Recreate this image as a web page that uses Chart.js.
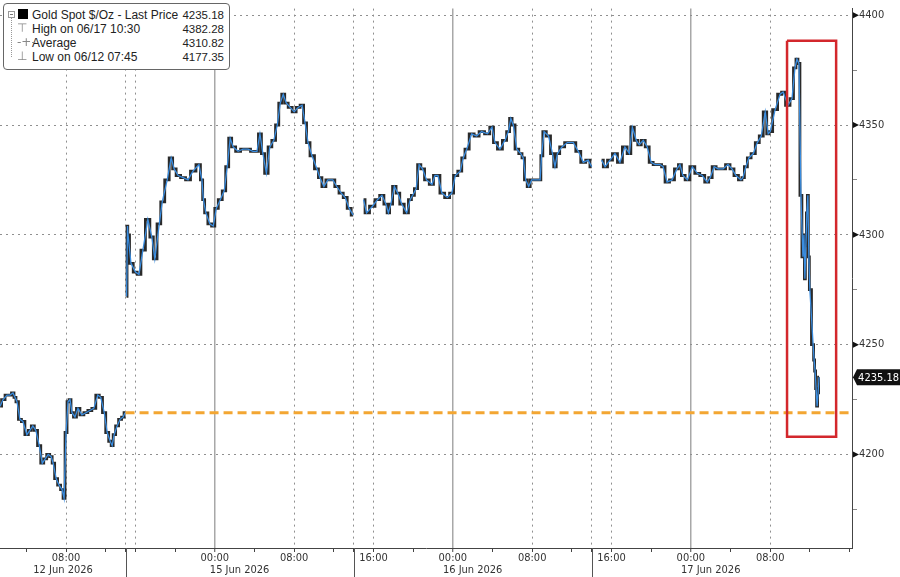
<!DOCTYPE html>
<html>
<head>
<meta charset="utf-8">
<script src="https://cdn.jsdelivr.net/npm/chart.js@4.4.1/dist/chart.umd.min.js"></script>
<style>
  body { margin: 0; background: #fff; }
  #wrap { position: relative; width: 900px; height: 577px; }
  #legend {
    position: absolute; left: 3px; top: 3px; width: 227px; height: 67px;
    border: 1px solid #666; border-radius: 4px; background: #fff;
    padding: 4px 5px 0 0; box-sizing: border-box; color: #222;
  }
  #legend .row { display: flex; align-items: center; height: 14px; white-space: nowrap; }
  #legend .ic { width: 28px; flex: none; position: relative; height: 14px; }
  #legend .lbl { flex: 1; font: 12px 'Liberation Sans', Arial, sans-serif; }
  #legend .val { flex: none; text-align: right; font: 11.5px 'Liberation Sans', Arial, sans-serif; }
  .minus { position: absolute; left: 4px; top: 3px; width: 5px; height: 5px; border: 1px solid #999; background: linear-gradient(#777,#777) center/3px 1px no-repeat; }
  .sq { position: absolute; left: 14px; top: 1px; width: 10px; height: 10px; background: #000; }
  .gl { position: absolute; left: 13px; top: -1px; color: #888; font: 12px 'DejaVu Sans', sans-serif; }
  .tree { position: absolute; left: 7px; top: 13px; width: 0; height: 40px; border-left: 1px dotted #999; }
</style>
</head>
<body>
<div id="wrap">
  <canvas id="chart" width="900" height="577"></canvas>
  <div id="legend">
    <div class="tree"></div>
    <div class="row"><span class="ic"><span class="minus"></span><span class="sq"></span></span><span class="lbl">Gold Spot $/Oz - Last Price</span><span class="val" id="vLast"></span></div>
    <div class="row"><span class="ic"><span class="gl">&#8868;</span></span><span class="lbl">High on 06/17 10:30</span><span class="val" id="vHigh"></span></div>
    <div class="row"><span class="ic"><span class="gl">-+-</span></span><span class="lbl">Average</span><span class="val" id="vAvg"></span></div>
    <div class="row"><span class="ic"><span class="gl">&#8869;</span></span><span class="lbl">Low on 06/12 07:45</span><span class="val" id="vLow"></span></div>
  </div>
</div>
<script>
// time axis: hours from 12 Jun 00:00, weekend cut out (12 Jun 14:00 runs straight into the 15 Jun session)
const times = [
  1.35, 1.65, 2.05, 2.35, 2.65, 2.85, 3.05, 3.35, 3.65, 4.05, 4.35, 4.65, 4.95, 5.3, 5.6, 5.9, 6.2, 6.5, 6.7, 7.0,
  7.3, 7.6, 7.8, 8.0, 8.2, 8.4, 8.6, 8.9, 9.2, 9.6, 10.0, 10.4, 10.8, 11.2, 11.5, 11.85, 12.15, 12.45, 12.65, 12.85,
  13.15, 13.45, 13.75, 13.95, 14.0,
  14.1, 14.2, 14.25, 14.55, 15.0, 15.35, 15.75, 16.25, 16.65, 16.95, 17.4, 17.7, 18.2, 18.6, 18.9, 19.3, 19.8, 20.3,
  20.8, 21.4, 21.7, 21.85, 22.1, 22.5, 22.85, 23.15, 23.55, 23.95, 24.25, 24.55, 24.85, 25.35, 25.85, 26.35, 26.85,
  27.25, 27.55, 27.85, 28.2, 28.55, 28.95, 29.3, 29.6, 29.9, 30.2, 30.6, 31.0, 31.4, 31.8, 32.1, 32.4, 32.8, 33.3,
  33.6, 34.0, 34.4, 34.9, 35.3, 35.75, 36.15, 36.55, 36.95, 37.5,
  38.0, 38.3, 38.9, 39.4, 39.85, 40.25, 40.5, 40.75, 41.1, 41.45, 41.85, 42.35, 42.7, 42.95, 43.3, 43.6, 43.95, 44.35,
  44.9, 45.2, 45.5, 45.9, 46.45, 46.9, 47.25, 47.75, 48.05, 48.4, 48.9, 49.4, 49.9, 50.5, 50.95, 51.25, 51.75, 52.25,
  52.6, 52.85, 53.1, 53.45, 53.85, 54.1, 54.35, 54.65, 54.95, 55.45, 55.8, 55.95, 56.2, 56.65, 57.05, 57.3, 57.55,
  58.0, 58.55, 59.15, 59.65, 60.15, 60.65, 61.0, 61.5,
  62.0, 62.35, 62.85, 63.35, 63.85, 64.35, 64.8, 65.1, 65.5, 65.8, 66.2, 66.6, 67.0, 67.4, 67.9, 68.2, 68.6, 69.1,
  69.6, 69.9, 70.2, 70.65, 71.15, 71.65, 72.15, 72.65, 72.95, 73.35, 73.75, 74.25, 74.75, 75.15, 75.55, 76.05, 76.25,
  76.55, 76.85, 77.3, 77.7, 78.1, 78.5, 78.8, 79.0, 79.5, 80.0, 80.3, 80.8, 81.2, 81.5, 81.7, 81.9, 82.1, 82.3, 82.4,
  82.5, 82.6, 82.7, 82.8, 82.9, 83.0, 83.33, 83.43, 83.53, 83.63, 83.73, 83.83, 83.93
];
const closes = [
  4222, 4225, 4227, 4227, 4228, 4226, 4224, 4216, 4215, 4209, 4211, 4213, 4211, 4204, 4196, 4198, 4200, 4199, 4196, 4189,
  4186, 4184, 4180, 4210, 4224, 4225, 4219, 4217, 4221, 4218, 4219, 4220, 4221, 4227, 4226, 4219, 4210, 4206, 4204, 4209,
  4213, 4216, 4217, 4219, null,
  4272, 4304, 4300, 4287, 4283, 4282, 4293, 4307, 4299, 4289, 4305, 4315, 4325, 4335, 4330, 4327, 4326, 4325,
  4329, 4332, 4325, 4316, 4310, 4305, 4304, 4312, 4316, 4320, 4331, 4344, 4340, 4338, 4339, 4339, 4338,
  4338, 4346, 4337, 4328, 4340, 4343, 4350, 4360, 4364, 4360, 4358, 4356, 4358, 4359, 4351, 4342, 4336, 4330,
  4326, 4322, 4325, 4325, 4322, 4319, 4317, 4312, 4309, null,
  4316, 4310, 4313, 4316, 4318, 4314, 4310, 4314, 4322, 4319, 4314, 4310, 4316, 4318, 4321, 4332, 4330, 4325,
  4323, 4327, 4327, 4319, 4317, 4319, 4327, 4329, 4335, 4339, 4346, 4345, 4347, 4346, 4349, 4342, 4339, 4343,
  4347, 4353, 4350, 4339, 4337, 4335, 4325, 4322, 4325, 4325, 4325, 4336, 4347, 4345, 4337, 4331, 4337,
  4340, 4342, 4342, 4338, 4333, 4334, 4331, null,
  4334, 4331, 4334, 4337, 4333, 4340, 4337, 4349, 4343, 4341, 4343, 4340, 4333, 4332, 4332, 4331, 4324, 4325,
  4330, 4332, 4327, 4325, 4331, 4328, 4327, 4324, 4326, 4331, 4330, 4330, 4332, 4330, 4327, 4325, 4326,
  4331, 4335, 4337, 4342, 4345, 4356, 4346, 4347, 4357, 4364, 4365, 4359, 4362, 4376, 4380, 4378, 4318, 4290, 4300,
  4280, 4295, 4310, 4318, 4290, 4275, 4250, 4243, 4238, 4230, 4222, 4228, 4235.18
];

const lastPrice = 4235.18;
const highPrice = 4382.28;
const avgPrice = 4310.82;
const lowPrice = 4177.35;
const refLevel = 4219;                 // orange dashed line
const boxTimes = [80.7, 85.65];        // red box
const boxValues = [4208, 4388.4];

const xMin = 1.34, xMax = 87.25;
const yMin = 4157.4, yMax = 4403;

const timeTicks = [4, 8, 12, 14, 15, 19, 23, 27, 31, 35, 37, 39, 43, 47, 51, 55, 59, 61, 63, 67, 71, 75, 79, 83, 87];
const timeTickLabels = ['', '08:00', '', '', '', '', '00:00', '', '08:00', '', '', '16:00', '', '00:00', '', '08:00', '', '', '16:00', '', '00:00', '', '08:00', '', ''];
const dottedTicks = [8, 14, 15, 31, 37, 39, 55, 61, 63, 79];
const midnightTicks = [23, 47, 71];
const sessionBreaks = [14, 37, 61];
const dateTicks = [7.7, 25.5, 49, 73];
const dateLabels = ['12 Jun 2026', '15 Jun 2026', '16 Jun 2026', '17 Jun 2026'];
const priceTicks = [4175, 4200, 4225, 4250, 4275, 4300, 4325, 4350, 4375, 4400];

const FONT = "'DejaVu Sans Condensed', 'Liberation Sans', sans-serif";
const isMajor = v => v % 50 === 0;

document.getElementById('vLast').textContent = lastPrice.toFixed(2);
document.getElementById('vHigh').textContent = highPrice.toFixed(2);
document.getElementById('vAvg').textContent = avgPrice.toFixed(2);
document.getElementById('vLow').textContent = lowPrice.toFixed(2);

const points = times.map((t, i) => ({ x: t, y: closes[i] }));

// separators under the time axis, price pointers, last price tag
const extras = {
  id: 'extras',
  afterDraw(chart) {
    const { ctx, chartArea } = chart;
    const x = chart.scales.x, y = chart.scales.y;
    ctx.save();
    ctx.strokeStyle = '#555';
    ctx.lineWidth = 1;
    sessionBreaks.forEach(t => {
      const px = Math.round(x.getPixelForValue(t)) + 0.5;
      ctx.beginPath();
      ctx.moveTo(px, chartArea.bottom);
      ctx.lineTo(px, chart.height);
      ctx.stroke();
    });

    ctx.fillStyle = '#111';
    priceTicks.filter(isMajor).forEach(v => {
      const py = y.getPixelForValue(v);
      ctx.beginPath();
      ctx.moveTo(chartArea.right + 1, py - 3);
      ctx.lineTo(chartArea.right + 7, py);
      ctx.lineTo(chartArea.right + 1, py + 3);
      ctx.closePath();
      ctx.fill();
    });

    const py = y.getPixelForValue(lastPrice);
    const left = chartArea.right + 1;
    ctx.fillStyle = '#111';
    ctx.beginPath();
    ctx.moveTo(left, py);
    ctx.lineTo(left + 4, py - 8);
    ctx.lineTo(chart.width, py - 8);
    ctx.lineTo(chart.width, py + 8);
    ctx.lineTo(left + 4, py + 8);
    ctx.closePath();
    ctx.fill();
    ctx.fillStyle = '#fff';
    ctx.font = '11px ' + FONT;
    ctx.textBaseline = 'middle';
    ctx.textAlign = 'right';
    ctx.fillText(lastPrice.toFixed(2), chart.width - 1, py + 0.5);
    ctx.restore();
  }
};

new Chart(document.getElementById('chart'), {
  type: 'line',
  data: {
    datasets: [
      {
        label: 'box',
        data: [
          { x: boxTimes[0], y: boxValues[1] }, { x: boxTimes[1], y: boxValues[1] },
          { x: boxTimes[1], y: boxValues[0] }, { x: boxTimes[0], y: boxValues[0] },
          { x: boxTimes[0], y: boxValues[1] }
        ],
        borderColor: '#d3272c', borderWidth: 2.5, pointRadius: 0, order: 0
      },
      {
        label: 'ref',
        data: [{ x: 14, y: refLevel }, { x: xMax, y: refLevel }],
        borderColor: '#f3a632', borderWidth: 3, borderDash: [9, 5], pointRadius: 0, order: 1
      },
      {
        label: 'close',
        data: points,
        borderColor: '#3a8de0', borderWidth: 1.3, pointRadius: 0, order: 2
      },
      {
        label: 'bars',
        data: points,
        stepped: 'middle',
        borderColor: '#2a2a2a', borderWidth: 2.8, pointRadius: 0, order: 3
      }
    ]
  },
  options: {
    responsive: false,
    animation: false,
    layout: { padding: 0 },
    plugins: { legend: { display: false }, tooltip: { enabled: false } },
    scales: {
      x: {
        type: 'linear', position: 'bottom', min: xMin, max: xMax,
        afterBuildTicks: s => { s.ticks = timeTicks.map(v => ({ value: v })); },
        afterFit: s => { s.height = 16; },
        ticks: {
          autoSkip: false, maxRotation: 0, padding: 0,
          font: { size: 11, family: FONT }, color: '#333',
          callback: (v) => timeTickLabels[timeTicks.indexOf(v)]
        },
        grid: {
          color: c => {
            const v = c.tick && c.tick.value;
            if (midnightTicks.includes(v)) return '#a8a8a8';
            if (dottedTicks.includes(v)) return '#8f8f8f';
            return 'rgba(0,0,0,0)';
          },
          lineWidth: c => (c.tick && midnightTicks.includes(c.tick.value)) ? 1.5 : 1,
          tickColor: '#444', tickLength: 4, tickWidth: 1
        },
        border: {
          color: '#444', width: 1,
          dash: c => (c.tick && dottedTicks.includes(c.tick.value)) ? [2, 4] : []
        }
      },
      x2: {
        type: 'linear', position: 'bottom', min: xMin, max: xMax,
        afterBuildTicks: s => { s.ticks = dateTicks.map(v => ({ value: v })); },
        afterFit: s => { s.height = 13; },
        ticks: {
          autoSkip: false, maxRotation: 0, padding: 0,
          font: { size: 11, family: FONT }, color: '#333',
          callback: (v) => dateLabels[dateTicks.indexOf(v)]
        },
        grid: { display: false, drawTicks: false },
        border: { display: false }
      },
      y: {
        type: 'linear', position: 'right', min: yMin, max: yMax,
        afterBuildTicks: s => { s.ticks = priceTicks.map(v => ({ value: v })); },
        afterFit: s => { s.width = 48; },
        ticks: {
          padding: 2, font: { size: 11, family: FONT }, color: '#333',
          callback: v => (isMajor(v) ? String(v) : '')
        },
        grid: {
          color: c => (c.tick && isMajor(c.tick.value)) ? '#8f8f8f' : 'rgba(0,0,0,0)',
          tickColor: c => (c.tick && isMajor(c.tick.value)) ? 'rgba(0,0,0,0)' : '#888',
          tickLength: 5, tickWidth: 1
        },
        border: {
          color: '#444', width: 1,
          dash: c => (c.tick ? [2, 4] : [])
        }
      }
    }
  },
  plugins: [extras]
});
</script>
</body>
</html>
